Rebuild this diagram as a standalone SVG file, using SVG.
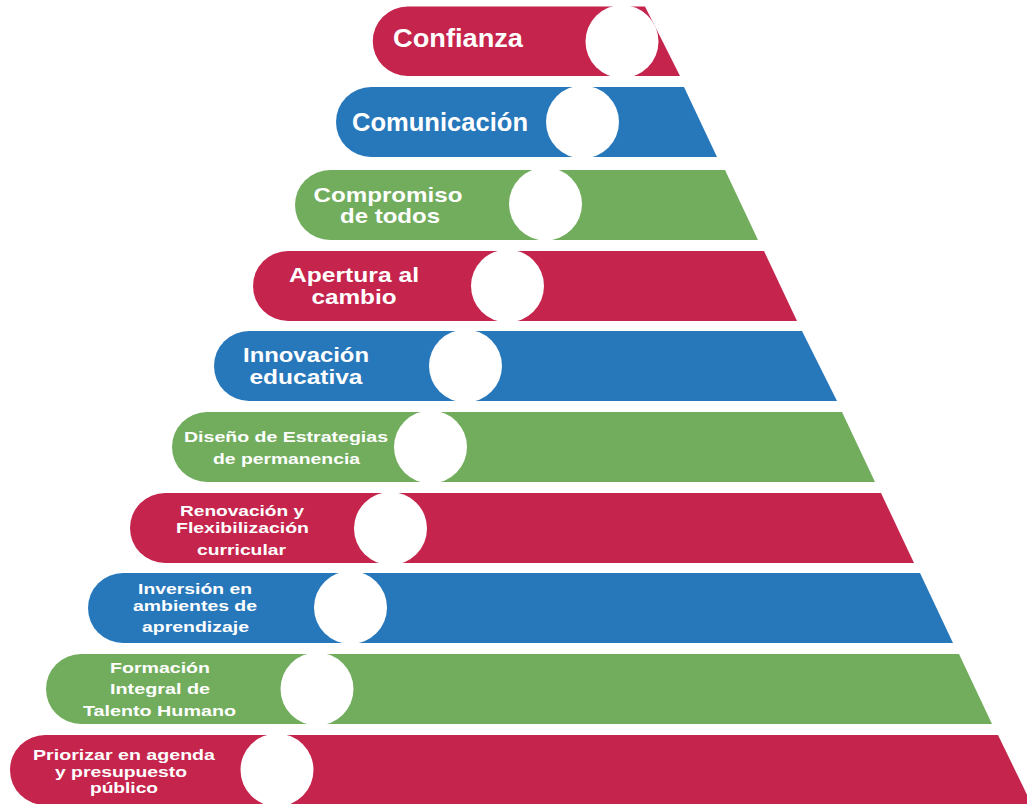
<svg xmlns="http://www.w3.org/2000/svg" width="1027" height="804" viewBox="0 0 1027 804">
<style>
.red{fill:#C5244D}
.blue{fill:#2777BB}
.green{fill:#71AD5D}
.dot{fill:#FFFFFF}
.t{fill:#FFFFFF;font-family:"Liberation Sans",Arial,sans-serif;font-weight:700;text-anchor:middle}
.t1{font-size:25px}
.t2{font-size:20.5px}
.t3{font-size:15.5px}
</style>
<rect width="1027" height="804" fill="#FFFFFF"/>
<g id="connectors"/>
<g id="node-confianza">
<path class="red" d="M407.5,6.5 H645 L680,76 H407.5 A34.75,34.75 0 0 1 407.5,6.5 Z"/>
<circle class="dot" cx="622" cy="41.5" r="36.5"/>
<text class="t t1" x="458" y="47" textLength="130" lengthAdjust="spacingAndGlyphs">Confianza</text>
</g>
<g id="node-comunicacion">
<path class="blue" d="M371,87 H684 L717,157 H371 A35,35 0 0 1 371,87 Z"/>
<circle class="dot" cx="582.5" cy="122" r="36.5"/>
<text class="t t1" x="440" y="131" textLength="176" lengthAdjust="spacingAndGlyphs">Comunicación</text>
</g>
<g id="node-compromiso">
<path class="green" d="M330,170 H725 L758,240 H330 A35,35 0 0 1 330,170 Z"/>
<circle class="dot" cx="545.5" cy="204" r="36.5"/>
<text class="t t2" x="388" y="201.5" textLength="149" lengthAdjust="spacingAndGlyphs">Compromiso</text>
<text class="t t2" x="390" y="222.5" textLength="100" lengthAdjust="spacingAndGlyphs">de todos</text>
</g>
<g id="node-apertura">
<path class="red" d="M288,251 H764 L797,321 H288 A35,35 0 0 1 288,251 Z"/>
<circle class="dot" cx="507.5" cy="286" r="36.5"/>
<text class="t t2" x="354" y="281.5" textLength="130" lengthAdjust="spacingAndGlyphs">Apertura al</text>
<text class="t t2" x="354" y="303.5" textLength="85" lengthAdjust="spacingAndGlyphs">cambio</text>
</g>
<g id="node-innovacion">
<path class="blue" d="M249,331 H802 L837,401 H249 A35,35 0 0 1 249,331 Z"/>
<circle class="dot" cx="465.5" cy="366" r="36.5"/>
<text class="t t2" x="306" y="362" textLength="126" lengthAdjust="spacingAndGlyphs">Innovación</text>
<text class="t t2" x="306" y="384" textLength="113" lengthAdjust="spacingAndGlyphs">educativa</text>
</g>
<g id="node-diseno">
<path class="green" d="M207,412 H842 L875,482 H207 A35,35 0 0 1 207,412 Z"/>
<circle class="dot" cx="430.5" cy="447" r="36.5"/>
<text class="t t3" x="286" y="442" textLength="204" lengthAdjust="spacingAndGlyphs">Diseño de Estrategias</text>
<text class="t t3" x="286.5" y="464" textLength="147" lengthAdjust="spacingAndGlyphs">de permanencia</text>
</g>
<g id="node-renovacion">
<path class="red" d="M165,493 H881 L914,563 H165 A35,35 0 0 1 165,493 Z"/>
<circle class="dot" cx="390.5" cy="528.5" r="36.5"/>
<text class="t t3" x="242" y="516" textLength="124" lengthAdjust="spacingAndGlyphs">Renovación y</text>
<text class="t t3" x="242.5" y="533" textLength="133" lengthAdjust="spacingAndGlyphs">Flexibilización</text>
<text class="t t3" x="241.5" y="555" textLength="89" lengthAdjust="spacingAndGlyphs">curricular</text>
</g>
<g id="node-inversion">
<path class="blue" d="M123,573 H920 L953,643 H123 A35,35 0 0 1 123,573 Z"/>
<circle class="dot" cx="350.5" cy="607.5" r="36.5"/>
<text class="t t3" x="195" y="594" textLength="114" lengthAdjust="spacingAndGlyphs">Inversión en</text>
<text class="t t3" x="195" y="611" textLength="124" lengthAdjust="spacingAndGlyphs">ambientes de</text>
<text class="t t3" x="195.5" y="632" textLength="107" lengthAdjust="spacingAndGlyphs">aprendizaje</text>
</g>
<g id="node-formacion">
<path class="green" d="M81,654 H959 L992,724 H81 A35,35 0 0 1 81,654 Z"/>
<circle class="dot" cx="317" cy="689" r="36.5"/>
<text class="t t3" x="160" y="673" textLength="100" lengthAdjust="spacingAndGlyphs">Formación</text>
<text class="t t3" x="160" y="694" textLength="100" lengthAdjust="spacingAndGlyphs">Integral de</text>
<text class="t t3" x="159.5" y="716" textLength="153" lengthAdjust="spacingAndGlyphs">Talento Humano</text>
</g>
<g id="node-priorizar">
<path class="red" d="M45,735 H998 L1032,805 H45 A35,35 0 0 1 45,735 Z"/>
<circle class="dot" cx="277" cy="770" r="36.5"/>
<text class="t t3" x="124" y="760" textLength="182" lengthAdjust="spacingAndGlyphs">Priorizar en agenda</text>
<text class="t t3" x="121" y="777" textLength="132" lengthAdjust="spacingAndGlyphs">y presupuesto</text>
<text class="t t3" x="124" y="793" textLength="68" lengthAdjust="spacingAndGlyphs">público</text>
</g>
</svg>
